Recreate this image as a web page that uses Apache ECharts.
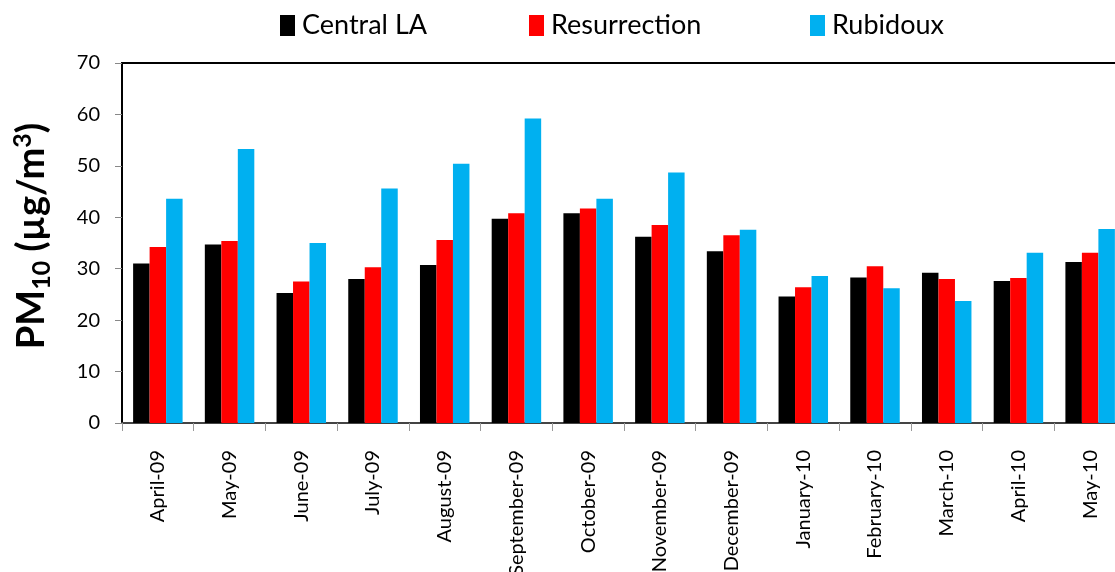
<!DOCTYPE html>
<html>
<head>
<meta charset="utf-8">
<script src="https://cdn.jsdelivr.net/npm/echarts@6/dist/echarts.min.js"></script>
<style>
html,body{margin:0;padding:0;background:#fff;}
#c{width:1115px;height:572px;}
</style>
</head>
<body>
<div id="c"></div>
<script>
const categories = ['April-09','May-09','June-09','July-09','August-09','September-09','October-09','November-09','December-09','January-10','February-10','March-10','April-10','May-10'];
const centralLA   = [31.0, 34.7, 25.3, 28.0, 30.7, 39.7, 40.8, 36.2, 33.4, 24.6, 28.3, 29.2, 27.6, 31.3];
const resurrection = [34.2, 35.4, 27.5, 30.3, 35.6, 40.8, 41.7, 38.5, 36.5, 26.4, 30.5, 28.0, 28.2, 33.1];
const rubidoux    = [43.6, 53.3, 35.0, 45.6, 50.4, 59.2, 43.6, 48.7, 37.6, 28.6, 26.2, 23.7, 33.1, 37.7];
const yTicks = [0, 10, 20, 30, 40, 50, 60, 70];

const FONT = 'Lato';
const chart = echarts.init(document.getElementById('c'), null, {renderer: 'canvas'});

function legendFor(name, left) {
  return {
    data: [name], left: left, top: 7,
    itemWidth: 15, itemHeight: 21, itemGap: 0,
    icon: 'rect',
    textStyle: {fontFamily: FONT, fontSize: 27, color: '#000', padding: [0, 0, 0, 2]},
    selectedMode: false
  };
}

chart.setOption({
  animation: false,
  textStyle: {fontFamily: FONT},
  legend: [
    legendFor('Central LA', 275),
    legendFor('Resurrection', 524),
    legendFor('Rubidoux', 805)
  ],
  grid: {
    left: 122, width: 1004, top: 63, height: 360,
    containLabel: false, outerBoundsMode: 'none',
    show: true, borderColor: '#000', borderWidth: 2, backgroundColor: 'transparent'
  },
  xAxis: {
    type: 'category',
    data: categories,
    axisLine: {lineStyle: {color: '#444', width: 2}},
    axisTick: {show: true, length: 8, lineStyle: {color: '#999', width: 1}},
    axisLabel: {rotate: 90, margin: 27, fontFamily: FONT, fontSize: 20, color: '#000', interval: 0}
  },
  yAxis: {
    type: 'value',
    min: yTicks[0], max: yTicks[yTicks.length - 1], interval: 10,
    axisLine: {show: true, lineStyle: {color: '#000', width: 2}},
    axisTick: {show: true, length: 7, lineStyle: {color: '#888', width: 1}},
    splitLine: {show: false},
    axisLabel: {margin: 22, fontFamily: FONT, fontSize: 20, color: '#000'}
  },
  graphic: [{
    type: 'text',
    x: 32, y: 236,
    rotation: Math.PI / 2,
    style: {
      text: '{a|PM}{b|10}{a| (µg/m}{c|3}{a|)}',
      align: 'center', verticalAlign: 'middle',
      rich: {
        a: {fontFamily: FONT, fontWeight: 'bold', fontSize: 38, lineHeight: 44, fill: '#000'},
        b: {fontFamily: FONT, fontWeight: 'bold', fontSize: 25, lineHeight: 30, verticalAlign: 'bottom', fill: '#000'},
        c: {fontFamily: FONT, fontWeight: 'bold', fontSize: 25, lineHeight: 30, verticalAlign: 'top', fill: '#000'}
      }
    }
  }],
  series: [
    {name: 'Central LA', type: 'bar', data: centralLA, itemStyle: {color: '#000000'}, barGap: '0%', barCategoryGap: '31%'},
    {name: 'Resurrection', type: 'bar', data: resurrection, itemStyle: {color: '#FF0000'}, barGap: '0%', barCategoryGap: '31%'},
    {name: 'Rubidoux', type: 'bar', data: rubidoux, itemStyle: {color: '#00B0F0'}, barGap: '0%', barCategoryGap: '31%'}
  ]
});
</script>
</body>
</html>
